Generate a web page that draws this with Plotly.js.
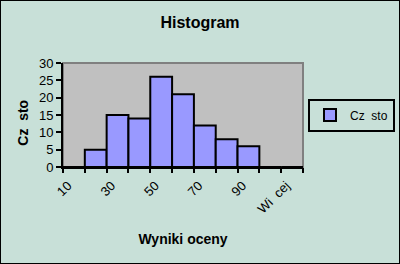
<!DOCTYPE html>
<html>
<head>
<meta charset="utf-8">
<script src="https://cdn.plot.ly/plotly-3.0.1.min.js"></script>
<style>
html,body{margin:0;padding:0;background:#c8e0d8;}
#wrap{position:relative;width:400px;height:264px;}
#chart{width:400px;height:264px;}
#frame{position:absolute;left:0;top:0;width:398px;height:262px;border:1px solid #000;pointer-events:none;}
</style>
</head>
<body>
<div id="wrap"><div id="chart"></div><div id="frame"></div></div>
<script>
// Data
const categories = ['10','20','30','40','50','60','70','80','90','100','Wi\u00a0\u00a0cej'];
const counts     = [0, 5, 15, 14, 26, 21, 12, 8, 6, 0, 0];
const labeledTicks = ['10','30','50','70','90','Wi\u00a0\u00a0cej'];
const seriesName = 'Cz\u00a0\u00a0sto';
const boundaryTicks = [-0.5,0.5,1.5,2.5,3.5,4.5,5.5,6.5,7.5,8.5,9.5,10.5];

const font = {family:'Liberation Sans, Arial, sans-serif', color:'#000', size:13};

const traces = [{
  type:'bar', x:categories, y:counts, name:seriesName,
  marker:{color:'#9999ff', line:{color:'#000', width:2}},
  showlegend:true, hoverinfo:'none'
}, {
  type:'scatter', x:[], y:[], xaxis:'x2', yaxis:'y', showlegend:false, hoverinfo:'none'
}];

const layout = {
  width:400, height:264,
  paper_bgcolor:'#c8e0d8', plot_bgcolor:'#c0c0c0',
  margin:{l:63, r:97, t:63, b:97, pad:0, autoexpand:false},
  font:font,
  title:{text:'<b>Histogram</b>', font:{family:font.family, size:16, color:'#000'},
         x:0.5, xref:'container', xanchor:'center', y:1-22/264, yref:'container', yanchor:'middle'},
  bargap:0,
  xaxis:{type:'category', range:[-0.5,10.5], tickmode:'array', tickvals:labeledTicks, ticktext:labeledTicks,
         ticks:'', showline:true, linecolor:'#000', linewidth:2, showgrid:false, zeroline:false,
         tickangle:-45, tickfont:{size:13}, fixedrange:true, ticklabelshift:-6, ticklabelstandoff:4,
         title:{text:'<b>Wyniki oceny</b>', font:{size:14}, standoff:19}},
  xaxis2:{overlaying:'x', anchor:'y', side:'bottom', range:[-0.5,10.5], tickmode:'array', tickvals:boundaryTicks,
          ticks:'outside', ticklen:5, tickwidth:2, tickcolor:'#000', showticklabels:false,
          showline:false, showgrid:false, zeroline:false},
  yaxis:{range:[0,30], dtick:5, ticks:'outside', ticklen:5, tickwidth:2, tickcolor:'#000',
         showline:true, linecolor:'#000', linewidth:2, showgrid:false, zeroline:false, tickfont:{size:13},
         title:{text:'<b>Cz\u00a0\u00a0sto\u00a0\u00a0\u00a0\u00a0</b>', font:{size:14}, standoff:7}},
  legend:{x:(395-63)/240, xanchor:'right', y:0.5, yanchor:'middle', bgcolor:'rgba(0,0,0,0)',
          bordercolor:'#000', borderwidth:2, font:{size:12}},
  shapes:[{type:'rect', xref:'paper', yref:'paper', x0:0, x1:1, y0:0, y1:1,
           line:{color:'#808080', width:2}, layer:'below'}]
};

Plotly.newPlot('chart', traces, layout, {displayModeBar:false, staticPlot:true});
</script>
</body>
</html>
